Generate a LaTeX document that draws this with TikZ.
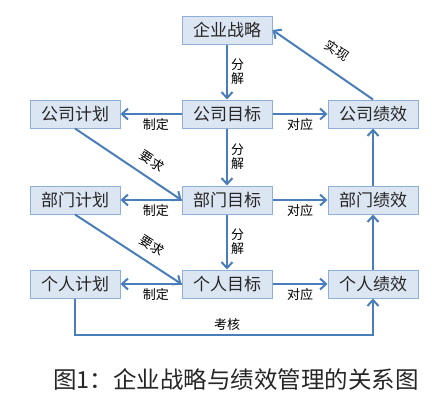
\documentclass[tikz,border=0pt]{standalone}
\usepackage{fontspec}
\setmainfont{Noto Sans CJK SC}
\usetikzlibrary{arrows.meta}

\definecolor{boxfill}{HTML}{DCE6F2}
\definecolor{boxline}{HTML}{8EAFD8}
\definecolor{linkblue}{HTML}{4A7EBB}

\tikzset{
  box/.style={draw=boxline, fill=boxfill, line width=1pt, minimum width=90pt,
    minimum height=28pt, inner sep=0pt, text=black!85, font=\fontsize{17}{20}\selectfont},
  link/.style={->, draw=linkblue, line width=2pt},
  lab/.style={font=\fontsize{13}{14}\selectfont, text=black, inner sep=3pt, align=center},
}

\begin{document}
\begin{tikzpicture}[x=1pt, y=-1pt, >={Straight Barb[length=6pt,width=11pt]}]
        \useasboundingbox (0,0) rectangle (444,402);

        % Strategia
        \node[box] (strategy) at (227,30) {企业战略};

        % Livello azienda
        \node[box] (cplan) at (75,114) {公司计划};
        \node[box] (cgoal) at (227,114) {公司目标};
        \node[box] (cperf) at (373,114) {公司绩效};

        % Livello reparto
        \node[box] (dplan) at (75,200) {部门计划};
        \node[box] (dgoal) at (227,200) {部门目标};
        \node[box] (dperf) at (373,200) {部门绩效};

        % Livello individuale
        \node[box] (iplan) at (75,284) {个人计划};
        \node[box] (igoal) at (227,284) {个人目标};
        \node[box] (iperf) at (373,284) {个人绩效};

        % Scomposizione degli obiettivi
        \draw[link] (strategy) -- (cgoal) node[lab, midway, right] {分\\解};
        \draw[link] (cgoal) -- (dgoal) node[lab, midway, right] {分\\解};
        \draw[link] (dgoal) -- (igoal) node[lab, midway, right] {分\\解};

        % Piani e prestazioni
        \draw[link] (cgoal) -- (cplan) node[lab, pos=0.42, below] {制定};
        \draw[link] (cgoal) -- (cperf) node[lab, midway, below] {对应};
        \draw[link] (dgoal) -- (dplan) node[lab, pos=0.42, below] {制定};
        \draw[link] (dgoal) -- (dperf) node[lab, midway, below] {对应};
        \draw[link] (igoal) -- (iplan) node[lab, pos=0.42, below] {制定};
        \draw[link] (igoal) -- (iperf) node[lab, midway, below] {对应};

        % Requisiti verso il livello inferiore
        \draw[link] (cplan.south) -- (dgoal.west) node[lab, pos=0.64, above=6pt, sloped] {要求};
        \draw[link] (dplan.south) -- (igoal.west) node[lab, pos=0.64, above=6pt, sloped] {要求};

        % Risalita delle prestazioni
        \draw[link] (iperf) -- (dperf);
        \draw[link] (dperf) -- (cperf);
        \draw[link] (cperf.north) -- (strategy.east) node[lab, pos=0.47, above=10pt, sloped] {实现};

        % Valutazione
        \coordinate (bottom) at (227,335);
        \draw[link] (iplan.south) |- (bottom) node[lab, above] {考核} -| (iperf.south);

        % Didascalia
        \node[font=\fontsize{23.5}{26}\selectfont, text=black!85] (caption) at (236,379) {图1：企业战略与绩效管理的关系图};

    \end{tikzpicture}
\end{document}
